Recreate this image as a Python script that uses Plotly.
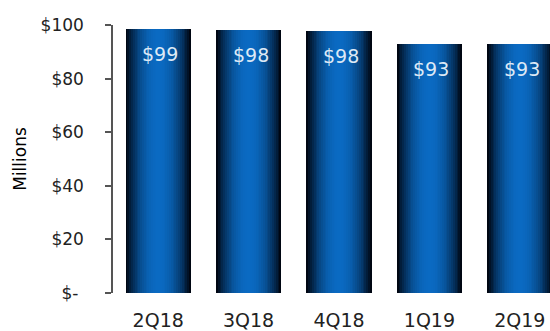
import plotly.graph_objects as go

# ---- data ----
quarters = ["2Q18", "3Q18", "4Q18", "1Q19", "2Q19"]
values = [98.6, 98.2, 97.6, 92.9, 92.8]
y_tickvals = [0, 20, 40, 60, 80, 100]
y_ticktext = ["$- ", "$20", "$40", "$60", "$80", "$100"]

# ---- style ----
N_LAYERS = 18
BAR_W = 0.72
center_rgb = (10, 106, 194)
edge_rgb = (0, 6, 18)


def layer_color(d):
    # d: normalized distance from bar centre (0 centre, 1 edge)
    f = min(1.0, d ** 2.2)
    r, g, b = (round(c + (e - c) * f) for c, e in zip(center_rgb, edge_rgb))
    return f"rgb({r},{g},{b})"


fig = go.Figure()
for i in range(N_LAYERS):
    frac = 1 - i / N_LAYERS
    fig.add_trace(go.Bar(
        x=quarters, y=values,
        width=[BAR_W * frac] * len(quarters),
        marker=dict(color=layer_color(frac), line=dict(width=0)),
        hoverinfo="skip", showlegend=False,
    ))

for q, v in zip(quarters, values):
    fig.add_annotation(
        x=q, y=v, text=f"${round(v)}", showarrow=False,
        yanchor="middle", yshift=-25, xshift=2,
        font=dict(family="DejaVu Sans", size=19, color="#dde9f6"),
    )

fig.update_layout(
    width=550, height=331,
    margin=dict(l=113, r=0, t=25, b=38),
    paper_bgcolor="white", plot_bgcolor="white",
    barmode="overlay", bargap=0,
    xaxis=dict(
        range=[-0.5, 4.334], showline=False, showgrid=False, ticks="",
        tickfont=dict(family="DejaVu Sans", size=19, color="#222"),
        ticklabelstandoff=14,
    ),
    yaxis=dict(
        range=[0, 100], tickvals=y_tickvals, ticktext=y_ticktext,
        showgrid=False, zeroline=False,
        showline=True, linecolor="#555", linewidth=1.5,
        ticks="outside", ticklen=6, tickcolor="#555", tickwidth=1.5,
        tickfont=dict(family="DejaVu Sans", size=17, color="#222"),
        ticklabelstandoff=18,
        title=dict(text="Millions", font=dict(family="DejaVu Sans", size=17, color="#000"), standoff=10),
    ),
)

fig.write_html("out.html")
